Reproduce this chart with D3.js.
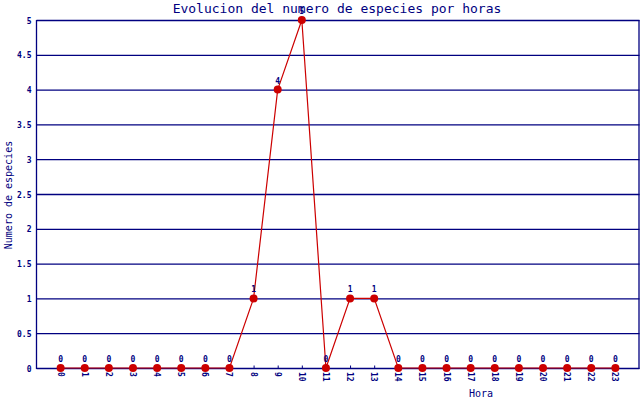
<!DOCTYPE html>
<html><head><meta charset="utf-8">
<script src="https://cdn.jsdelivr.net/npm/d3@7"></script>
<style>body{margin:0;background:#fff}svg{display:block}</style>
</head><body>
<script>
const horas = ["0","1","2","3","4","5","6","7","8","9","10","11","12","13","14","15","16","17","18","19","20","21","22","23"];
const especies = [0,0,0,0,0,0,0,0,1,4,5,0,1,1,0,0,0,0,0,0,0,0,0,0];
const yTicks = [0,0.5,1,1.5,2,2.5,3,3.5,4,4.5,5];
const titulo = "Evolucion del numero de especies por horas";
const ejeX = "Hora";
const ejeY = "Numero de especies";

const W=640,H=400, L=36.5, R=639.5, T=20, B=368;
const navy="#000080", red="#cc0000", font="DejaVu Sans Mono, monospace";
const svg=d3.select("body").append("svg").attr("width",W).attr("height",H);
const x=d3.scalePoint().domain(horas).range([L,R]).padding(1);
const y=d3.scaleLinear().domain([0,5]).range([B,T]);

// grid
svg.append("g").selectAll("line").data(yTicks).join("line")
 .attr("x1",L).attr("x2",R).attr("y1",d=>y(d)+0.5).attr("y2",d=>y(d)+0.5)
 .attr("stroke",navy).attr("stroke-width",1.3);
// borders
svg.append("line").attr("x1",L).attr("x2",L).attr("y1",T).attr("y2",B+1).attr("stroke",navy).attr("stroke-width",1.3);
svg.append("line").attr("x1",R-0.5).attr("x2",R-0.5).attr("y1",T).attr("y2",B+1).attr("stroke",navy).attr("stroke-width",1.3);

// y axis
const ya=svg.append("g").attr("transform",`translate(${L},0.5)`)
 .call(d3.axisLeft(y).tickValues(yTicks).tickSize(0).tickPadding(5).tickFormat(d=>String(d)));
ya.select(".domain").remove();
ya.selectAll("text").attr("font-family",font).attr("font-size",8).attr("font-weight","bold").attr("fill",navy);

// x axis
const xa=svg.append("g").attr("transform",`translate(0,${B+0.5})`)
 .call(d3.axisTop(x).tickSize(3).tickFormat(""));
xa.select(".domain").remove();
xa.selectAll("line").attr("stroke",navy);
svg.append("g").selectAll("text").data(horas).join("text")
 .attr("transform",d=>`translate(${x(d)-3},${B+4}) rotate(90)`)
 .attr("font-family",font).attr("font-size",8).attr("font-weight","bold").attr("fill",navy)
 .text(d=>d);

// line
const pts=horas.map((h,i)=>[h,especies[i]]);
svg.append("path").datum(pts)
 .attr("d",d3.line().x(d=>x(d[0])).y(d=>y(d[1])))
 .attr("fill","none").attr("stroke",red).attr("stroke-width",1.2);
svg.append("g").selectAll("circle").data(pts).join("circle")
 .attr("cx",d=>x(d[0])).attr("cy",d=>y(d[1])).attr("r",4).attr("fill",red);
svg.append("g").selectAll("text").data(pts).join("text")
 .attr("x",d=>x(d[0])).attr("y",d=>y(d[1])-6).attr("text-anchor","middle")
 .attr("font-family",font).attr("font-size",8).attr("font-weight","bold").attr("fill",navy)
 .text(d=>d[1]);

// titles
svg.append("text").attr("x",337).attr("y",13).attr("text-anchor","middle")
 .attr("font-family",font).attr("font-size",13).attr("fill",navy).text(titulo);
svg.append("text").attr("x",481).attr("y",397).attr("text-anchor","middle")
 .attr("font-family",font).attr("font-size",10).attr("fill",navy).text(ejeX);
svg.append("text").attr("transform","translate(12,195) rotate(-90)").attr("text-anchor","middle")
 .attr("font-family",font).attr("font-size",10).attr("fill",navy).text(ejeY);
</script>
</body></html>
